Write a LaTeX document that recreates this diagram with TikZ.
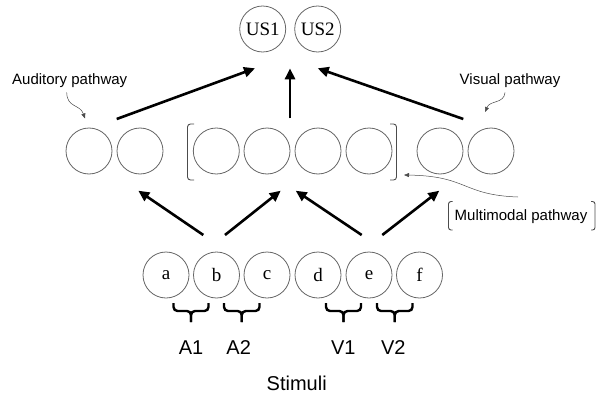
\documentclass[tikz,border=0pt]{standalone}
\usepackage{fontspec}
\setmainfont{Liberation Serif}
\newfontfamily\lsans{Liberation Sans}
\usetikzlibrary{arrows.meta}
\newcommand\mybrace[2]{%
  \draw[bracestyle] (#1,303) -- (#1,311) -- ({(#1+#2)/2},311) -- ({(#1+#2)/2},322);
  \draw[bracestyle] (#2,303) -- (#2,311) -- ({(#1+#2)/2},311) -- ({(#1+#2)/2},322);}
\begin{document}
\begin{tikzpicture}[x=1pt,y=-1pt,
  unit/.style={circle,draw=black!60,line width=0.8pt,minimum size=46pt,inner sep=0pt,font=\fontsize{19}{19}\selectfont},
  thick arrow/.style={line width=2.6pt,-{Triangle[length=11pt,width=10pt]}},
  thin arrow/.style={line width=0.5pt,black!70,-{Triangle[length=5pt,width=4pt]}},
  lab/.style={font=\lsans\fontsize{15}{15}\selectfont,inner sep=0pt},
  biglab/.style={font=\lsans\fontsize{20}{20}\selectfont,inner sep=0pt},
  brk/.style={line width=0.9pt,black!70,rounded corners=3pt},
  bracestyle/.style={line width=2.4pt,rounded corners=4pt}
]
\useasboundingbox (0,0) rectangle (601,401);
% top
\node[unit] (us1) at (262.7,29) {US1};
\node[unit] (us2) at (317.7,29) {US2};
% middle row
\node[unit] (m1) at (89,151) {};
\node[unit] (m2) at (140,151) {};
\node[unit] (m3) at (216.3,151) {};
\node[unit] (m4) at (267,151) {};
\node[unit] (m5) at (318,151) {};
\node[unit] (m6) at (369,151) {};
\node[unit] (m7) at (440,151) {};
\node[unit] (m8) at (491,151) {};
% bottom row
\node[unit] (a) at (166,275) {a};
\node[unit] (b) at (216.5,275) {b};
\node[unit] (c) at (267,275) {c};
\node[unit] (d) at (318,275) {d};
\node[unit] (e) at (369,275) {e};
\node[unit] (f) at (419.5,275) {f};
% brackets around multimodal units
\draw[brk] (194,124) -- (187.5,124) -- (187.5,180) -- (194,180);
\draw[brk] (390,124) -- (396.5,124) -- (396.5,180) -- (390,180);
% labels
\node[lab] (aud) at (69.7,80.7) {Auditory pathway};
\node[lab] (vis) at (510,80.7) {Visual pathway};
\node[lab] (mm) at (521,216.7) {Multimodal pathway};
\draw[brk,rounded corners=2.5pt] (452.5,201.5) -- (448.5,201.5) -- (448.5,230) -- (452.5,230);
\draw[brk,rounded corners=2.5pt] (591,201.5) -- (595,201.5) -- (595,230) -- (591,230);
% thin curved arrows
\coordinate (audS) at (66.7,92.5);
\coordinate (audT) at (85,118.5);
\draw[thin arrow] (audS) .. controls (67,108) and (80,104) .. (audT);
\coordinate (visS) at (505,92.5);
\coordinate (visT) at (485,112);
\coordinate (mmS) at (518,197);
\coordinate (mmT) at (404,175);
\draw[thin arrow] (visS) .. controls (504,104) and (490,100) .. (visT);
\draw[thin arrow] (mmS) .. controls (462,195) and (468,176) .. (mmT);
% thick arrows to US
\coordinate (t1s) at (116.7,119);
\coordinate (t1e) at (255,68.3);
\coordinate (t2s) at (290,118.3);
\coordinate (t2e) at (290,68.3);
\coordinate (t3s) at (463.3,119);
\coordinate (t3e) at (317.7,68.3);
\draw[thick arrow] (t1s) -- (t1e);
\draw[thick arrow] (t2s) -- (t2e);
\draw[thick arrow] (t3s) -- (t3e);
% thick arrows from stimuli
\coordinate (s1s) at (203.3,235);
\coordinate (s1e) at (138.3,190.7);
\coordinate (s2s) at (225,235);
\coordinate (s2e) at (280.7,190.7);
\coordinate (s3s) at (361.7,235);
\coordinate (s3e) at (295.7,190.7);
\coordinate (s4s) at (382.3,235);
\coordinate (s4e) at (439.3,190.7);
\draw[thick arrow] (s1s) -- (s1e);
\draw[thick arrow] (s2s) -- (s2e);
\draw[thick arrow] (s3s) -- (s3e);
\draw[thick arrow] (s4s) -- (s4e);
% braces
\mybrace{173.5}{208.5}
\mybrace{224}{259.5}
\mybrace{326}{361}
\mybrace{377}{412.5}
\node[biglab] (A1) at (191,347.5) {A1};
\node[biglab] (A2) at (238.7,347.5) {A2};
\node[biglab] (V1) at (343.3,347.5) {V1};
\node[biglab] (V2) at (393.3,347.5) {V2};
\node[biglab] (stim) at (296.7,383) {Stimuli};
\end{tikzpicture}
\end{document}
